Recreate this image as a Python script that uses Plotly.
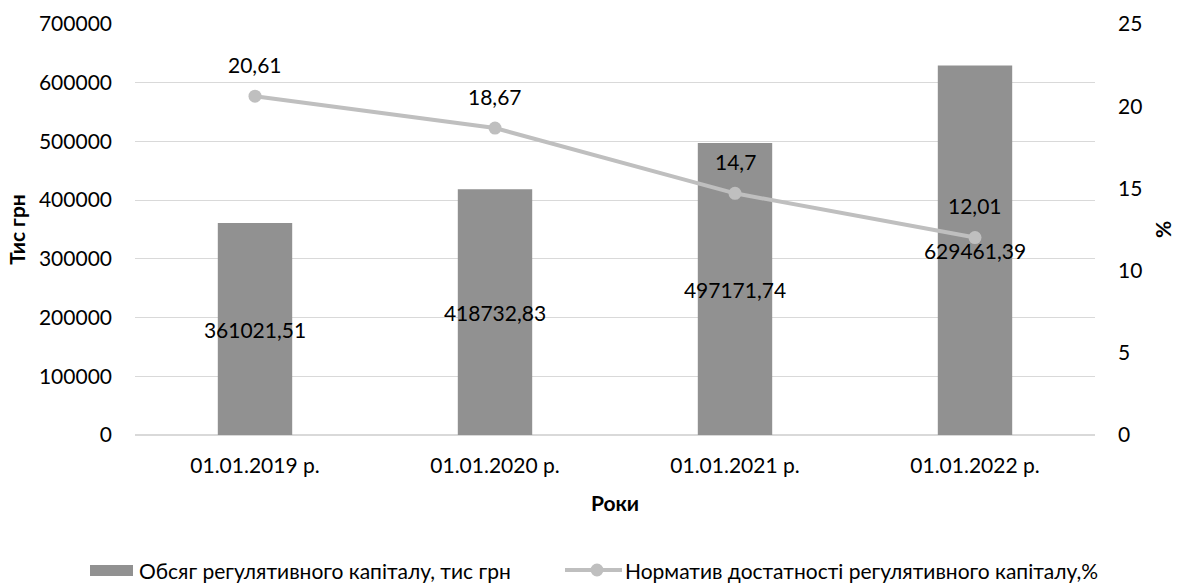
import plotly.graph_objects as go

categories = ["01.01.2019 р.", "01.01.2020 р.", "01.01.2021 р.", "01.01.2022 р."]
capital = [361021.51, 418732.83, 497171.74, 629461.39]
adequacy = [20.61, 18.67, 14.7, 12.01]

bar_name = "Обсяг регулятивного капіталу, тис грн"
line_name = "Норматив достатності регулятивного капіталу,%"

BAR_COLOR = "#919191"
LINE_COLOR = "#BFBFBF"
GRID_COLOR = "#D9D9D9"
FONT = "Lato, 'Open Sans', sans-serif"
FS = 21

# plot area in pixels (used to place the hand-built legend)
W, H = 1183, 585
L, R, T, B = 135, 88, 24, 150
PW, PH = W - L - R, H - T - B


def px(x):
    return (x - L) / PW


def py(y):
    return (H - B - y) / PH


def fmt(v):
    s = f"{v:.2f}".rstrip("0").rstrip(".")
    return s.replace(".", ",")


fig = go.Figure()
fig.add_trace(go.Bar(
    x=categories, y=capital, name=bar_name,
    marker=dict(color=BAR_COLOR, line=dict(width=0)),
    width=0.31,
    text=[fmt(v) for v in capital],
    textposition="inside", insidetextanchor="middle",
    constraintext="none", textangle=0,
    textfont=dict(color="#000000", size=FS, family=FONT),
    cliponaxis=False, showlegend=False,
))
fig.add_trace(go.Scatter(
    x=categories, y=adequacy, name=line_name, yaxis="y2",
    mode="lines+markers",
    line=dict(color=LINE_COLOR, width=4),
    marker=dict(color=LINE_COLOR, size=13),
    cliponaxis=False, showlegend=False,
))

# value labels above the line points
for c, v in zip(categories, adequacy):
    fig.add_annotation(x=c, y=v, xref="x", yref="y2", text=fmt(v),
                       showarrow=False, yshift=32,
                       font=dict(color="#000000", size=FS, family=FONT))

# legend: bar swatch + line-with-marker swatch
ly = 570
fig.add_shape(type="rect", xref="paper", yref="paper",
              x0=px(90), x1=px(133), y0=py(576), y1=py(565),
              fillcolor=BAR_COLOR, line=dict(width=0))
fig.add_annotation(xref="paper", yref="paper", x=px(137), y=py(ly),
                   xanchor="left", yanchor="middle", showarrow=False,
                   text=bar_name, font=dict(color="#000000", size=FS, family=FONT))
fig.add_shape(type="line", xref="paper", yref="paper",
              x0=px(565), x1=px(622), y0=py(ly), y1=py(ly),
              line=dict(color=LINE_COLOR, width=4))
fig.add_shape(type="circle", xref="paper", yref="paper",
              x0=px(590.5), x1=px(603.5), y0=py(ly + 6.5), y1=py(ly - 6.5),
              fillcolor=LINE_COLOR, line=dict(width=0))
fig.add_annotation(xref="paper", yref="paper", x=px(623), y=py(ly),
                   xanchor="left", yanchor="middle", showarrow=False,
                   text=line_name, font=dict(color="#000000", size=FS, family=FONT))

fig.update_layout(
    width=W, height=H,
    margin=dict(l=L, r=R, t=T, b=B),
    paper_bgcolor="white", plot_bgcolor="white",
    font=dict(family=FONT, size=FS, color="#000000"),
    showlegend=False,
    xaxis=dict(
        showgrid=False, showline=True, linecolor=GRID_COLOR, linewidth=1,
        ticks="", tickfont=dict(size=FS), ticklabelstandoff=12,
        automargin=False,
        title=dict(text="<b>Роки</b>", font=dict(size=FS), standoff=20),
    ),
    yaxis=dict(
        range=[0, 700000], dtick=100000, tickformat="d",
        showgrid=True, gridcolor=GRID_COLOR, gridwidth=1,
        zeroline=True, zerolinecolor=GRID_COLOR,
        showline=False, ticks="", tickfont=dict(size=FS),
        ticklabelstandoff=22, automargin=False,
        title=dict(text="<b>Тис грн</b>", font=dict(size=FS), standoff=7),
    ),
    yaxis2=dict(
        range=[0, 25], dtick=5, overlaying="y", side="right",
        showgrid=False, zeroline=False, showline=False, ticks="",
        tickfont=dict(size=FS), ticklabelstandoff=22, automargin=False,
        title=dict(text="<b>%</b>", font=dict(size=FS), standoff=14),
    ),
)

fig.write_html("out.html")
